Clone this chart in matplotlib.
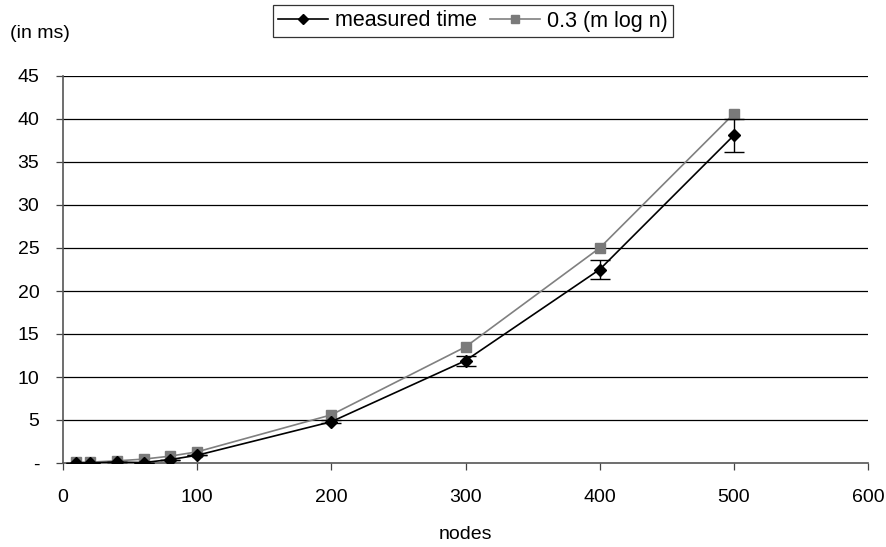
import numpy as np
import matplotlib.pyplot as plt
from matplotlib.lines import Line2D

plt.rcParams['font.family'] = ['Liberation Sans', 'DejaVu Sans']

nodes = [10, 20, 40, 60, 80, 100, 200, 300, 400, 500]
measured = [0.0, 0.0, 0.1, 0.05, 0.4, 0.9, 4.8, 11.9, 22.5, 38.1]
measured_err = [0, 0, 0, 0, 0, 0, 0.2, 0.6, 1.1, 1.9]
model = [0.1, 0.1, 0.25, 0.45, 0.8, 1.3, 5.6, 13.5, 25.0, 40.6]

yticks = [0, 5, 10, 15, 20, 25, 30, 35, 40, 45]
ylabels = ['-'] + [str(v) for v in yticks[1:]]
xticks = [0, 100, 200, 300, 400, 500, 600]

fs = 14

fig = plt.figure(figsize=(8.86, 5.47), dpi=100)
ax = fig.add_axes([63/886, 1 - 463/547, (868 - 63)/886, (463 - 76)/547])

for y in yticks[1:]:
    ax.axhline(y, color='black', lw=0.9, zorder=1)

ax.plot(nodes, model, color='#808080', lw=1.2, marker='s', ms=7,
        mfc='#7a7a7a', mec='#7a7a7a', zorder=3)
ax.errorbar(nodes, measured, yerr=measured_err, color='black', lw=1.2,
            marker='D', ms=6, capsize=7, elinewidth=1.0, capthick=1.0,
            zorder=4)

ax.set_xlim(0, 600)
ax.set_ylim(0, 45)
ax.set_xticks(xticks)
ax.set_yticks(yticks)
ax.set_yticklabels(ylabels)
ax.tick_params(labelsize=fs, length=5, width=0.9, color='#444444')
ax.tick_params(axis='y', pad=12)
ax.tick_params(axis='x', pad=14)
for s in ['top', 'right']:
    ax.spines[s].set_visible(False)
for s in ['left', 'bottom']:
    ax.spines[s].set_color('#555555')
    ax.spines[s].set_linewidth(1.2)

ax.set_xlabel('nodes', fontsize=fs, labelpad=14)
fig.text(10/886, 1 - 33/547, '(in ms)', fontsize=fs, va='center', ha='left')

handles = [Line2D([], [], color='black', lw=1.2, marker='D', ms=5),
           Line2D([], [], color='#808080', lw=1.2, marker='s', ms=6,
                  mfc='#7a7a7a', mec='#7a7a7a')]
labels = ['measured time', '0.3 (m log n)']
leg = fig.legend(handles, labels, loc='center', bbox_to_anchor=(473/886, 1 - 21/547),
                 ncol=2, fontsize=15.5, frameon=True, fancybox=False,
                 edgecolor='black', handlelength=2.3, handletextpad=0.35,
                 columnspacing=0.6, borderpad=0.25, borderaxespad=0)
leg.get_frame().set_linewidth(0.9)

fig.savefig('out.png', dpi=100)
